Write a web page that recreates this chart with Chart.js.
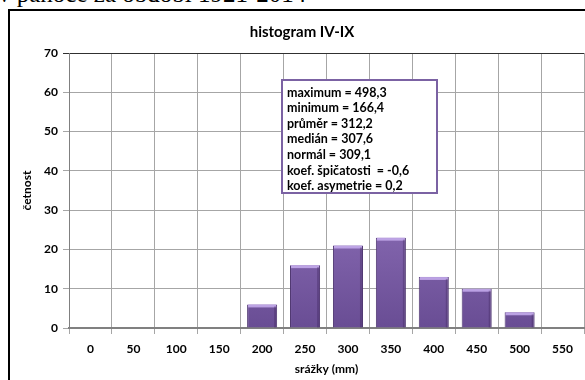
<!DOCTYPE html>
<html>
<head>
<meta charset="utf-8">
<script src="https://cdn.jsdelivr.net/npm/chart.js@4.4.1/dist/chart.umd.min.js"></script>
<style>
  html, body { margin: 0; padding: 0; background: #fff; overflow: hidden; }
  body { width: 585px; height: 380px; position: relative; }
  #doctext {
    position: absolute; left: -2px; top: -20px;
    font-family: "Liberation Serif", "DejaVu Serif", serif;
    font-size: 25px; white-space: nowrap; color: #000;
  }
  #frame {
    position: absolute; left: 8px; top: 9px; width: 620px; height: 420px;
    border: 2px solid #000; box-sizing: border-box;
  }
  #wrap { position: absolute; left: 0; top: 0; width: 585px; height: 380px; }
</style>
</head>
<body>
<div id="doctext">v pánoce za období 1921-2014</div>
<div id="frame"></div>
<div id="wrap"><canvas id="histChart" width="585" height="380"></canvas></div>
<script>
// histogram IV-IX — četnost srážek po třídách 50 mm
const categories = ['0', '50', '100', '150', '200', '250', '300', '350', '400', '450', '500', '550'];
const counts     = [0, 0, 0, 0, 6, 16, 21, 23, 13, 10, 4, 0];
const yTicks     = [0, 10, 20, 30, 40, 50, 60, 70];
const statLines  = [
    'maximum = 498,3',
    'minimum = 166,4',
    'průměr = 312,2',
    'medián = 307,6',
    'normál = 309,1',
    'koef. špičatosti  = -0,6',
    'koef. asymetrie = 0,2'
];

const FONT = 'Lato, "Open Sans", sans-serif';

// ---- Lesk na horní hraně sloupců (imitace Excel bevel) ----
const bevelPlugin = {
    id: 'bevel',
    afterDatasetsDraw(chart) {
        const { ctx } = chart;
        chart.getDatasetMeta(0).data.forEach((bar, i) => {
            if (!counts[i]) return;
            const left = bar.x - bar.width / 2;
            ctx.save();
            ctx.fillStyle = 'rgba(195,170,235,0.9)';
            ctx.fillRect(left + 1, bar.y, bar.width - 2, 3);
            ctx.fillStyle = 'rgba(60,35,90,0.35)';
            ctx.fillRect(left + bar.width - 3, bar.y + 2, 2, bar.base - bar.y - 2);
            ctx.restore();
        });
    }
};

// ---- Rámeček se statistikami ----
const statBoxPlugin = {
    id: 'statBox',
    afterDraw(chart) {
        const { ctx } = chart;
        const x = 282, y = 80, w = 155, h = 113;
        ctx.save();
        ctx.fillStyle = '#fff';
        ctx.fillRect(x, y, w, h);
        ctx.strokeStyle = '#7b62a3';
        ctx.lineWidth = 2;
        ctx.strokeRect(x, y, w, h);
        ctx.fillStyle = '#000';
        ctx.font = 'bold 12.5px ' + FONT;
        ctx.textBaseline = 'middle';
        statLines.forEach((t, i) => ctx.fillText(t, x + 5, y + 12.5 + i * 15.6));
        ctx.restore();
    }
};

const canvas = document.getElementById('histChart');
const c2d = canvas.getContext('2d');

new Chart(c2d, {
    type: 'bar',
    data: {
        labels: categories,
        datasets: [{
            data: counts,
            backgroundColor: (ctx) => {
                const area = ctx.chart.chartArea;
                if (!area) return '#7c5fa8';
                const g = ctx.chart.ctx.createLinearGradient(0, area.top + 150, 0, area.bottom);
                g.addColorStop(0, '#8a6cb5');
                g.addColorStop(1, '#694d94');
                return g;
            },
            borderColor: '#4e3670',
            borderWidth: 1,
            barPercentage: 0.7,
            categoryPercentage: 1.0
        }]
    },
    options: {
        responsive: false,
        animation: false,
        layout: { padding: { left: 20, right: 1, top: 0, bottom: 0 } },
        plugins: {
            legend: { display: false },
            tooltip: { enabled: false },
            title: {
                display: true,
                text: 'histogram IV-IX',
                color: '#000',
                font: { family: FONT, size: 15, weight: 'bold' },
                padding: { top: 23, bottom: 12 }
            }
        },
        scales: {
            x: {
                grid: {
                    offset: true,
                    color: (ctx) => ctx.index === categories.length ? '#303030' : '#a6a6a6',
                    tickLength: 6
                },
                border: { color: '#808080', width: 2 },
                ticks: {
                    color: '#000',
                    padding: 8,
                    maxRotation: 0,
                    font: { family: FONT, size: 12, weight: 'bold' }
                },
                title: {
                    display: true,
                    text: 'srážky (mm)',
                    color: '#000',
                    font: { family: FONT, size: 12, weight: 'bold' },
                    padding: { top: 4, bottom: 4 }
                },
                afterFit: (scale) => { scale.height = 52; }
            },
            y: {
                min: 0,
                max: 70,
                afterBuildTicks: (scale) => { scale.ticks = yTicks.map(v => ({ value: v })); },
                grid: {
                    color: (ctx) => ctx.tick && ctx.tick.value === 70 ? '#303030' : '#a6a6a6',
                    tickLength: 6
                },
                border: { color: '#808080', width: 1 },
                ticks: {
                    color: '#000',
                    padding: 5,
                    font: { family: FONT, size: 12, weight: 'bold' }
                },
                title: {
                    display: true,
                    text: 'četnost',
                    color: '#000',
                    font: { family: FONT, size: 12, weight: 'bold' },
                    padding: { top: 0, bottom: 0 }
                },
                afterFit: (scale) => { scale.width = 49; }
            }
        }
    },
    plugins: [bevelPlugin, statBoxPlugin]
});
</script>
</body>
</html>
